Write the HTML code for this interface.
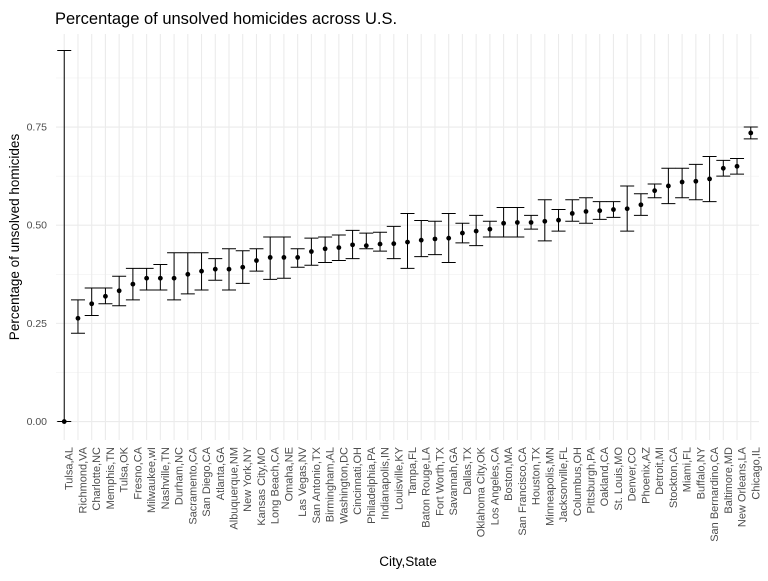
<!DOCTYPE html>
<html><head><meta charset="utf-8"><style>
body{margin:0;background:#fff;font-family:"Liberation Sans",sans-serif}
</style></head><body>
<svg id="chart" width="768" height="576" xmlns="http://www.w3.org/2000/svg">
<rect width="768" height="576" fill="#fff"/>
<text x="55" y="24" font-size="16.5" fill="#000">Percentage of unsolved homicides across U.S.</text>
<text transform="translate(19,237) rotate(-90)" text-anchor="middle" font-size="13.5" fill="#000">Percentage of unsolved homicides</text>
<text x="408" y="566" text-anchor="middle" font-size="13.5" fill="#000">City,State</text>
<g id="grid"></g><g id="marks"></g><g id="labels"></g>
</svg>
<script>
const cities=["Tulsa,AL","Richmond,VA","Charlotte,NC","Memphis,TN","Tulsa,OK","Fresno,CA","Milwaukee,wI","Nashville,TN","Durham,NC","Sacramento,CA","San Diego,CA","Atlanta,GA","Albuquerque,NM","New York,NY","Kansas City,MO","Long Beach,CA","Omaha,NE","Las Vegas,NV","San Antonio,TX","Birmingham,AL","Washington,DC","Cincinnati,OH","Philadelphia,PA","Indianapolis,IN","Louisville,KY","Tampa,FL","Baton Rouge,LA","Fort Worth,TX","Savannah,GA","Dallas,TX","Oklahoma City,OK","Los Angeles,CA","Boston,MA","San Francisco,CA","Houston,TX","Minneapolis,MN","Jacksonville,FL","Columbus,OH","Pittsburgh,PA","Oakland,CA","St. Louis,MO","Denver,CO","Phoenix,AZ","Detroit,MI","Stockton,CA","Miami,FL","Buffalo,NY","San Bernardino,CA","Baltimore,MD","New Orleans,LA","Chicago,IL"];
const estimate=[0,0.263,0.30,0.319,0.333,0.35,0.365,0.365,0.365,0.375,0.383,0.388,0.388,0.393,0.41,0.418,0.418,0.418,0.433,0.44,0.443,0.45,0.448,0.452,0.453,0.457,0.462,0.465,0.467,0.48,0.485,0.49,0.505,0.507,0.507,0.51,0.513,0.53,0.535,0.537,0.54,0.542,0.552,0.588,0.6,0.61,0.612,0.618,0.645,0.65,0.735];
const upper=[0.945,0.31,0.34,0.34,0.37,0.39,0.39,0.40,0.43,0.43,0.43,0.415,0.44,0.435,0.44,0.47,0.47,0.44,0.467,0.47,0.475,0.487,0.48,0.482,0.497,0.53,0.512,0.51,0.53,0.505,0.525,0.51,0.545,0.545,0.525,0.565,0.54,0.565,0.57,0.56,0.56,0.60,0.58,0.605,0.645,0.645,0.655,0.675,0.665,0.67,0.75];
const lower=[0,0.225,0.27,0.30,0.295,0.31,0.335,0.335,0.31,0.325,0.335,0.36,0.335,0.352,0.383,0.362,0.365,0.393,0.398,0.405,0.41,0.415,0.44,0.434,0.415,0.39,0.42,0.425,0.405,0.455,0.448,0.47,0.47,0.47,0.49,0.46,0.485,0.51,0.505,0.515,0.52,0.485,0.525,0.57,0.555,0.57,0.565,0.56,0.625,0.63,0.72];
const yTicks=[0,0.25,0.5,0.75];
const yTickLabels=["0.00","0.25","0.50","0.75"];
const NS="http://www.w3.org/2000/svg";
const L=56,R=759,T=34,B=440;
const ymin=-0.047,ymax=0.987;
function ys(v){return B-(v-ymin)/(ymax-ymin)*(B-T);}
function xs(i){const n=cities.length;const step=(R-L)/(n-1+1.2);return L+step*(0.6+i);}
function mk(tag,attrs,parent){const e=document.createElementNS(NS,tag);for(const k in attrs)e.setAttribute(k,attrs[k]);parent.appendChild(e);return e;}
const grid=document.getElementById('grid'),marks=document.getElementById('marks'),labels=document.getElementById('labels');
[0.125,0.375,0.625,0.875].forEach(v=>{const l=mk('line',{x1:L,x2:R,y1:ys(v),y2:ys(v),stroke:'#f0f0f0','stroke-width':0.6},grid);

});
yTicks.forEach((v,k)=>{const l=mk('line',{x1:L,x2:R,y1:ys(v),y2:ys(v),stroke:'#ebebeb','stroke-width':1.1},grid);


const t=mk('text',{x:L-9,y:ys(v)+3.5,'text-anchor':'end','font-size':'10.5',fill:'#4d4d4d'},labels);t.textContent=yTickLabels[k];

});
cities.forEach((c,i)=>{const x=xs(i);
const g=mk('line',{x1:x,x2:x,y1:T,y2:B,stroke:'#ebebeb','stroke-width':1.1},grid);


const eb=mk('path',{d:`M${x-7} ${ys(upper[i])}H${x+7}M${x} ${ys(upper[i])}V${ys(lower[i])}M${x-7} ${ys(lower[i])}H${x+7}`,stroke:'#000','stroke-width':1,fill:'none'},marks);


const p=mk('circle',{cx:x,cy:ys(estimate[i]),r:2.4,fill:'#000'},marks);


const t=mk('text',{transform:`translate(${x+8.5},447) rotate(-90)`,'text-anchor':'end','font-size':'11',fill:'#4d4d4d'},labels);t.textContent=c;

});
</script>
</body></html>
